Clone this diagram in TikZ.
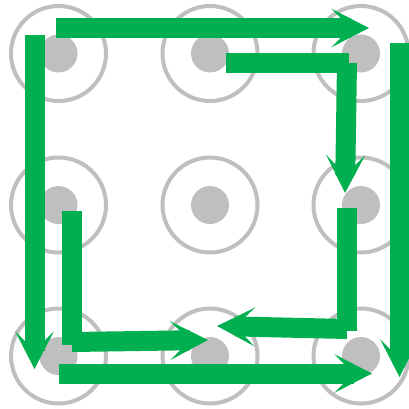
\documentclass[tikz,border=0pt]{standalone}
\usetikzlibrary{arrows.meta}
\definecolor{lockgreen}{RGB}{0,176,80}
\definecolor{lockgray}{RGB}{191,191,191}
\begin{document}
\begin{tikzpicture}[x=1pt,y=-1pt,
  ring/.style={circle,draw=lockgray,line width=4pt,minimum size=95pt,inner sep=0pt},
  dot/.style={circle,fill=lockgray,minimum size=38pt,inner sep=0pt},
  bar/.style={draw=lockgreen,line width=20pt,line cap=butt},
  arr/.style={bar,-{Stealth[length=38pt,width=39pt,inset=20pt,line width=0pt,fill=lockgreen,color=lockgreen]}}]
\useasboundingbox (0,0) rectangle (409,408);
% grid of rings and dots
\foreach \i/\x in {1/58.5,2/210,3/361}{
  \foreach \j/\y in {1/53.5,2/205,3/356}{
    \node[ring] (r\i\j) at (\x,\y) {};
    \node[dot] (d\i\j) at (\x,\y) {};
  }
}
% endpoints
\coordinate (a0) at (56,28);   \coordinate (a1) at (369,28);
\coordinate (b0) at (34.5,35); \coordinate (b1) at (34.5,369);
\coordinate (c0) at (226,63);  \coordinate (c1) at (349,63);
\coordinate (c2) at (347,63);  \coordinate (c3) at (345,193);
\coordinate (e0) at (72,211);  \coordinate (e1) at (72,345);
\coordinate (e2) at (72,342);  \coordinate (e3) at (208,340);
\coordinate (f0) at (347,208); \coordinate (f1) at (347,331);
\coordinate (f2) at (347,329); \coordinate (f3) at (217,326);
\coordinate (g0) at (399.5,43);\coordinate (g1) at (399.5,377);
\coordinate (h0) at (59,373.5);\coordinate (h1) at (372,373.5);
% green strokes
\draw[arr] (a0) -- (a1);
\draw[arr] (b0) -- (b1);
\draw[bar] (c0) -- (c1);
\draw[arr] (c2) -- (c3);
\draw[bar] (e0) -- (e1);
\draw[arr] (e2) -- (e3);
\draw[bar] (f0) -- (f1);
\draw[arr] (f2) -- (f3);
\draw[arr] (g0) -- (g1);
\draw[arr] (h0) -- (h1);
\end{tikzpicture}
\end{document}
